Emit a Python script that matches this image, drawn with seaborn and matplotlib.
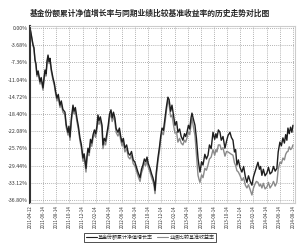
import matplotlib
matplotlib.use("Agg")
import matplotlib.pyplot as plt
import pandas as pd
import seaborn as sns

# --- Data ---
# x positions are in "tick units": tick i sits at x = i
X_POS = [0.00, 0.10, 0.23, 0.30, 0.38, 0.45, 0.53, 0.62, 0.76, 0.85,
         0.99, 1.06, 1.14, 1.22, 1.30, 1.37, 1.45, 1.52, 1.62, 1.75,
         1.85, 1.95, 2.05, 2.15, 2.28, 2.38, 2.50, 2.66, 2.75, 2.89,
         2.96, 3.04, 3.15, 3.27, 3.35, 3.45, 3.57, 3.68, 3.80, 3.90,
         4.03, 4.12, 4.26, 4.33, 4.41, 4.50, 4.60, 4.70, 4.79, 4.90,
         5.00, 5.10, 5.17, 5.25, 5.35, 5.48, 5.55, 5.65, 5.75, 5.86,
         5.95, 6.05, 6.16, 6.25, 6.35, 6.46, 6.55, 6.69, 6.80, 6.90,
         7.00, 7.10, 7.22, 7.35, 7.48, 7.60, 7.72, 7.85, 7.98, 8.08,
         8.21, 8.37, 8.48, 8.59, 8.70, 8.80, 8.90, 9.00, 9.13, 9.25,
         9.35, 9.44, 9.51, 9.60, 9.73, 9.85, 9.95, 10.04, 10.15, 10.27,
         10.38, 10.49, 10.58, 10.70, 10.80, 10.92, 11.03, 11.15, 11.25, 11.38,
         11.50, 11.63, 11.75, 11.84, 11.94, 12.05, 12.15, 12.25, 12.32, 12.42,
         12.55, 12.66, 12.78, 12.86, 12.93, 13.05, 13.16, 13.30, 13.42, 13.54,
         13.65, 13.78, 13.92, 14.05, 14.14, 14.22, 14.33, 14.45, 14.55, 14.68,
         14.83, 14.95, 15.06, 15.21, 15.32, 15.44, 15.55, 15.64, 15.74, 15.85,
         15.97, 16.12, 16.25, 16.38, 16.50, 16.62, 16.75, 16.88, 17.00, 17.11,
         17.22, 17.34, 17.45, 17.54, 17.64, 17.75, 17.88, 18.02, 18.14, 18.26,
         18.40, 18.52, 18.65, 18.78, 18.88, 19.01, 19.12, 19.24, 19.35, 19.45,
         19.54, 19.62, 19.72, 19.82, 19.92, 20.00]

FUND = [0.0, -1.5, -3.6, -4.2, -6.8, -7.6, -10.0, -9.2, -11.5, -10.6,
        -12.8, -10.8, -9.0, -9.8, -7.0, -5.8, -7.2, -6.5, -8.8, -10.7,
        -11.8, -13.6, -15.0, -14.2, -16.5, -15.6, -17.4, -18.0, -20.6, -22.3,
        -21.0, -23.3, -19.2, -16.5, -17.8, -17.0, -19.3, -21.0, -23.5, -24.8,
        -27.8, -26.9, -30.0, -27.5, -25.7, -26.6, -23.8, -24.6, -22.9, -21.8,
        -22.6, -20.8, -18.6, -19.8, -19.0, -20.8, -25.0, -23.6, -24.2, -22.3,
        -20.8, -18.4, -17.5, -19.2, -18.0, -19.3, -21.5, -22.3, -21.4, -23.2,
        -24.4, -23.6, -25.7, -25.0, -26.8, -27.2, -26.4, -28.2, -28.7, -29.6,
        -30.8, -32.0, -30.2, -29.3, -28.0, -28.6, -27.6, -29.0, -30.0, -31.2,
        -32.0, -33.0, -34.7, -31.0, -27.8, -25.4, -23.0, -21.4, -21.9, -19.3,
        -16.8, -14.8, -15.3, -17.8, -16.5, -18.8, -20.8, -20.0, -22.3, -21.6,
        -23.2, -24.0, -22.6, -23.2, -22.3, -20.8, -21.6, -19.2, -18.2, -19.4,
        -20.8, -23.6, -27.8, -29.6, -30.8, -28.6, -29.3, -27.0, -28.0, -27.2,
        -25.0, -25.8, -22.3, -23.8, -22.6, -23.5, -21.8, -22.3, -24.0, -23.2,
        -25.7, -24.2, -23.0, -22.3, -23.4, -24.0, -26.5, -26.0, -29.3, -28.2,
        -29.8, -30.8, -29.6, -31.8, -33.0, -31.6, -32.8, -33.6, -31.8, -30.8,
        -29.8, -28.7, -30.2, -29.6, -31.5, -30.2, -31.6, -31.0, -29.8, -31.2,
        -30.8, -29.6, -30.6, -30.0, -26.5, -24.4, -25.2, -23.5, -24.6, -22.8,
        -24.0, -21.4, -22.6, -21.2, -22.3, -20.8]

BENCH = [0.0, -1.6, -3.8, -4.5, -7.0, -8.0, -10.4, -9.6, -12.0, -11.1,
         -13.3, -11.3, -9.5, -10.3, -7.4, -6.3, -7.6, -7.0, -9.3, -11.2,
         -12.3, -14.1, -15.6, -14.8, -17.0, -16.2, -18.0, -18.6, -21.2, -22.9,
         -21.7, -24.0, -19.9, -17.2, -18.4, -17.7, -20.0, -21.7, -24.2, -25.5,
         -28.5, -27.6, -30.8, -28.3, -26.4, -27.3, -24.6, -25.3, -23.6, -22.6,
         -23.4, -21.5, -19.4, -20.6, -19.8, -21.5, -25.8, -24.4, -25.0, -23.1,
         -21.6, -19.2, -18.3, -20.0, -18.8, -20.1, -22.3, -23.1, -22.2, -24.0,
         -25.2, -24.4, -26.5, -25.8, -27.6, -28.0, -27.2, -29.0, -29.5, -30.4,
         -31.6, -32.8, -31.0, -30.1, -28.8, -29.4, -28.4, -29.8, -30.8, -32.0,
         -32.8, -33.8, -35.4, -31.8, -28.6, -26.2, -23.8, -22.3, -22.8, -20.3,
         -17.6, -15.5, -16.4, -19.0, -18.6, -20.8, -22.5, -22.2, -24.4, -23.6,
         -24.6, -25.0, -24.0, -24.4, -23.5, -22.2, -22.8, -20.6, -19.3, -21.0,
         -23.0, -27.0, -31.5, -32.4, -33.0, -31.4, -32.0, -30.0, -30.4, -29.3,
         -28.0, -27.6, -26.0, -27.2, -26.0, -26.5, -25.0, -25.0, -26.0, -25.6,
         -27.4, -26.4, -26.5, -26.8, -27.0, -27.2, -28.8, -29.4, -30.5, -30.8,
         -31.5, -32.6, -32.0, -33.6, -34.2, -33.5, -34.6, -35.7, -34.2, -33.4,
         -32.8, -33.0, -33.8, -33.4, -34.2, -33.2, -34.4, -34.0, -33.0, -34.2,
         -33.6, -32.8, -33.8, -33.0, -30.2, -28.7, -29.0, -27.8, -28.2, -27.0,
         -26.5, -26.4, -25.4, -26.0, -25.7, -25.0]

X_TICK_LABELS = ["2011-04-12", "2011-06-14", "2011-08-14", "2011-10-14", "2011-12-14",
                 "2012-02-14", "2012-04-14", "2012-06-14", "2012-08-14", "2012-10-14",
                 "2012-12-14", "2013-02-14", "2013-04-14", "2013-06-14", "2013-08-14",
                 "2013-10-14", "2013-12-14", "2014-02-14", "2014-04-14", "2014-06-14",
                 "2014-08-14"]
Y_TICKS = [0.00, -3.68, -7.36, -11.04, -14.72, -18.40, -22.08, -25.76, -29.44, -33.12, -36.80]

SERIES_NAMES = ["基金份额累计净值增长率", "业绩比较基准收益率"]
COLORS = {SERIES_NAMES[0]: "#1e1e1e", SERIES_NAMES[1]: "#8a8a8a"}

assert len(X_POS) == len(FUND) == len(BENCH)

# --- Plotting ---
sns.set_style("white")
plt.rcParams["font.family"] = ["Noto Sans CJK SC", "DejaVu Sans"]

df = pd.concat([
    pd.DataFrame({"x": X_POS, "y": FUND, "series": SERIES_NAMES[0]}),
    pd.DataFrame({"x": X_POS, "y": BENCH, "series": SERIES_NAMES[1]}),
], ignore_index=True)

fig = plt.figure(figsize=(3.0, 2.46), dpi=100)
ax = fig.add_axes([0.10, 0.175, 0.883, 0.72])

# benchmark drawn first so the fund line sits on top
sns.lineplot(data=df, x="x", y="y", hue="series", hue_order=SERIES_NAMES[::-1],
             palette=COLORS, linewidth=1.0, ax=ax, legend=False, sort=False)

ax.set_xlim(0, 20.15)
ax.set_ylim(-37.4, 0.45)
ax.set_xticks(range(len(X_TICK_LABELS)))
ax.set_xticklabels(X_TICK_LABELS, rotation=90, fontsize=3.2, color="#333333")
ax.set_yticks(Y_TICKS)
ax.set_yticklabels([f"{v:.2f}%" for v in Y_TICKS], fontsize=3.8, color="#333333")
ax.tick_params(length=0, pad=1.5)
ax.set_xlabel("")
ax.set_ylabel("")
ax.grid(True, linestyle=(0, (1, 1.5)), color="#999999", linewidth=0.6)

for side in ["top", "right", "bottom"]:
    ax.spines[side].set_color("#cccccc")
    ax.spines[side].set_linewidth(0.8)
ax.spines["left"].set_color("#333333")
ax.spines["left"].set_linewidth(1.5)

fig.suptitle("基金份额累计净值增长率与同期业绩比较基准收益率的历史走势对比图",
             x=0.5, y=0.965, fontsize=5.6, fontweight="bold")

handles = [plt.Line2D([], [], color=COLORS[name], lw=0.8) for name in SERIES_NAMES]
leg = fig.legend(handles, SERIES_NAMES, loc="center", bbox_to_anchor=(0.5, 0.035),
                 ncol=2, fontsize=3.6, frameon=True, fancybox=False,
                 handlelength=2.2, columnspacing=0.8, borderpad=0.3, handletextpad=0.3)
leg.get_frame().set_edgecolor("black")
leg.get_frame().set_linewidth(0.6)

fig.savefig("out.png", dpi=100)
